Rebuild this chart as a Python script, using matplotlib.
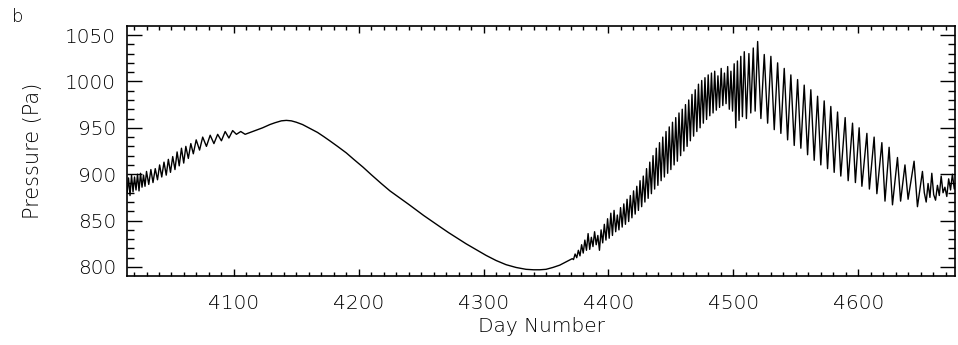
import numpy as np
import matplotlib
matplotlib.use("Agg")
import matplotlib.pyplot as plt
from matplotlib.ticker import MultipleLocator

plt.rcParams['font.family'] = ['DejaVu Sans']
plt.rcParams['font.weight'] = 'light'
plt.rcParams['axes.labelweight'] = 'light'

# early part: fast wiggles riding on a rising trend
early_days = [4014.5, 4015.6, 4016.8, 4018.0, 4019.2, 4020.4, 4021.6, 4022.8, 4024.0, 4025.2,
              4026.4, 4027.6, 4028.8, 4030.0, 4031.8, 4033.5, 4035.2, 4037.0, 4038.8, 4040.5,
              4042.2, 4044.0, 4045.8, 4047.5, 4049.2, 4051.0, 4052.8, 4054.5, 4056.2, 4058.0,
              4059.8, 4061.5, 4063.5, 4065.5, 4067.5, 4069.8, 4072.5, 4075.0, 4078.0, 4081.0,
              4084.0, 4087.0, 4090.0, 4093.0, 4096.0, 4099.0, 4102.0, 4105.5, 4109.0]
early_p = [880, 896, 877, 899, 881, 897, 883, 900, 882, 901,
           886, 899, 887, 903, 889, 905, 891, 906, 894, 910,
           897, 913, 899, 916, 902, 919, 905, 924, 909, 928,
           912, 930, 917, 933, 922, 937, 926, 940, 930, 942,
           933, 943, 936, 946, 939, 947, 943, 946, 943]

# smooth hump and the pressure minimum
smooth_days = [4113, 4118, 4123, 4128.8, 4133, 4138, 4142, 4146, 4150, 4155,
               4160.8, 4167, 4172, 4176.8, 4183, 4190, 4196, 4203.5, 4210, 4218,
               4225, 4232.8, 4240, 4246, 4252, 4259.5, 4266, 4272, 4279, 4286,
               4293, 4302, 4310, 4318, 4326, 4334, 4340, 4345, 4350, 4355.5,
               4361, 4366, 4371]
smooth_p = [945, 947.6, 950, 953.5, 955.5, 957.5, 958, 957.5, 956, 953.5,
            949.4, 945, 940.5, 936, 930, 923, 916, 907.5, 899.5, 890,
            882, 874.5, 867.5, 861.5, 855.5, 848.5, 842.5, 837, 831, 825,
            819.5, 812.5, 807, 802.5, 799.5, 797.5, 797, 797, 797.5, 799.5,
            802, 805.5, 809]

# rising part, dense oscillations
rise_days = [4372.0, 4373.3, 4374.6, 4375.9, 4377.2, 4378.5, 4379.8, 4381.1, 4382.4, 4383.7,
             4385.0, 4386.3, 4387.6, 4388.9, 4390.2, 4391.5, 4392.8, 4394.1, 4395.4, 4396.7,
             4398.0, 4399.3, 4400.6, 4401.9, 4403.2, 4404.5, 4405.8, 4407.1, 4408.4, 4409.7,
             4411.0, 4412.3, 4413.6, 4414.9, 4416.2, 4417.5, 4418.8, 4420.1, 4421.4, 4422.7,
             4424.0, 4425.3, 4426.6, 4427.9, 4429.2, 4430.5, 4431.8, 4433.1, 4434.4, 4435.7,
             4437.0, 4438.3, 4439.6, 4440.9, 4442.2, 4443.5, 4444.8, 4446.1, 4447.4, 4448.7,
             4450.0, 4451.3, 4452.6, 4453.9, 4455.2, 4456.5, 4457.8, 4459.1, 4460.4, 4461.7,
             4463.0, 4464.3, 4465.6, 4466.9, 4468.2, 4469.5, 4470.8, 4472.1, 4473.4, 4474.7,
             4476.0, 4477.3, 4478.6, 4479.9, 4481.2, 4482.5, 4483.8, 4485.1, 4486.4, 4487.7,
             4489.0, 4490.3, 4491.6, 4492.9, 4494.2, 4495.5, 4496.8, 4498.1, 4499.4, 4500.7,
             4502.0, 4503.3, 4504.6, 4506.0, 4507.3, 4508.8, 4510.5, 4512.5, 4514.0, 4516.0,
             4517.5, 4519.5]
rise_p = [808, 814, 810, 818, 812, 824, 815, 829, 818, 836,
          819, 832, 822, 838, 824, 834, 818, 840, 826, 846,
          829, 852, 831, 858, 834, 861, 838, 856, 840, 864,
          843, 868, 846, 873, 849, 877, 853, 882, 857, 887,
          861, 893, 865, 898, 870, 906, 874, 913, 879, 920,
          884, 928, 888, 934, 893, 940, 897, 946, 901, 951,
          905, 956, 910, 961, 914, 966, 920, 970, 925, 975,
          930, 980, 936, 986, 941, 991, 946, 997, 950, 1001,
          955, 1004, 959, 1007, 963, 1009, 966, 1011, 969, 1006,
          972, 1014, 974, 1009, 976, 1016, 970, 1011, 968, 1019,
          950, 1022, 958, 1027, 962, 1032, 960, 1030, 966, 1036,
          968, 1043]

# decay after the maximum, slower oscillations
decay_days = [4522.1, 4524.8, 4527.5, 4530.1, 4532.8, 4535.5, 4538.1, 4540.8, 4543.5, 4546.1,
              4548.8, 4551.5, 4554.1, 4556.8, 4559.5, 4562.1, 4564.8, 4567.5, 4570.1, 4572.8,
              4575.5, 4578.1, 4580.8, 4583.5, 4586.1, 4589.6, 4592.0, 4595.5, 4597.8, 4600.8,
              4603.0, 4607.0, 4609.0, 4612.8, 4615.0, 4619.0, 4621.5, 4624.8, 4627.5, 4631.5,
              4634.0, 4637.5, 4640.0, 4644.8, 4647.5, 4651.5, 4653.0, 4654.5, 4656.0, 4657.5,
              4659.0, 4660.5, 4662.0, 4663.5, 4665.0, 4666.5, 4668.0, 4669.5, 4671.0, 4672.5,
              4674.0, 4675.5, 4677.0, 4678.0]
decay_p = [960, 1029, 955, 1027, 948, 1020, 944, 1014, 937, 1007,
           931, 1002, 928, 996, 921, 991, 915, 984, 910, 979,
           906, 973, 902, 967, 898, 961, 893, 955, 891, 950,
           887, 944, 884, 940, 879, 934, 871, 929, 867, 918,
           871, 910, 873, 914, 865, 903, 880, 870, 890, 875,
           901, 878, 872, 888, 877, 898, 880, 886, 876, 895,
           883, 900, 884, 890]

day = np.concatenate([early_days, smooth_days, rise_days, decay_days])
pressure = np.concatenate([early_p, smooth_p, rise_p, decay_p])

fig = plt.figure(figsize=(9.58, 3.45), dpi=100)
ax = fig.add_axes([0.1326, 0.2, 0.8643, 0.7246])

ax.plot(day, pressure, color='black', linewidth=1.0)

ax.set_xlim(4014.4, 4677.6)
ax.set_ylim(790.3, 1059.7)

ax.xaxis.set_major_locator(MultipleLocator(100))
ax.xaxis.set_minor_locator(MultipleLocator(10))
ax.yaxis.set_major_locator(MultipleLocator(50))
ax.yaxis.set_minor_locator(MultipleLocator(10))

ax.tick_params(axis='both', which='both', direction='in', top=True, right=True,
               labelsize=14.5, colors='black')
ax.tick_params(axis='y', which='major', length=11, width=1.0, pad=8)
ax.tick_params(axis='y', which='minor', length=5, width=1.0)
ax.tick_params(axis='x', which='major', length=5, width=1.0, pad=13)
ax.tick_params(axis='x', which='minor', length=3, width=1.0)

for s in ax.spines.values():
    s.set_linewidth(1.2)

ax.set_xlabel('Day Number', fontsize=14.5, labelpad=3)
ax.set_ylabel('Pressure (Pa)', fontsize=15, labelpad=16)

fig.text(0.013, 0.935, 'b', fontsize=13)

fig.savefig('out.png', dpi=100)
